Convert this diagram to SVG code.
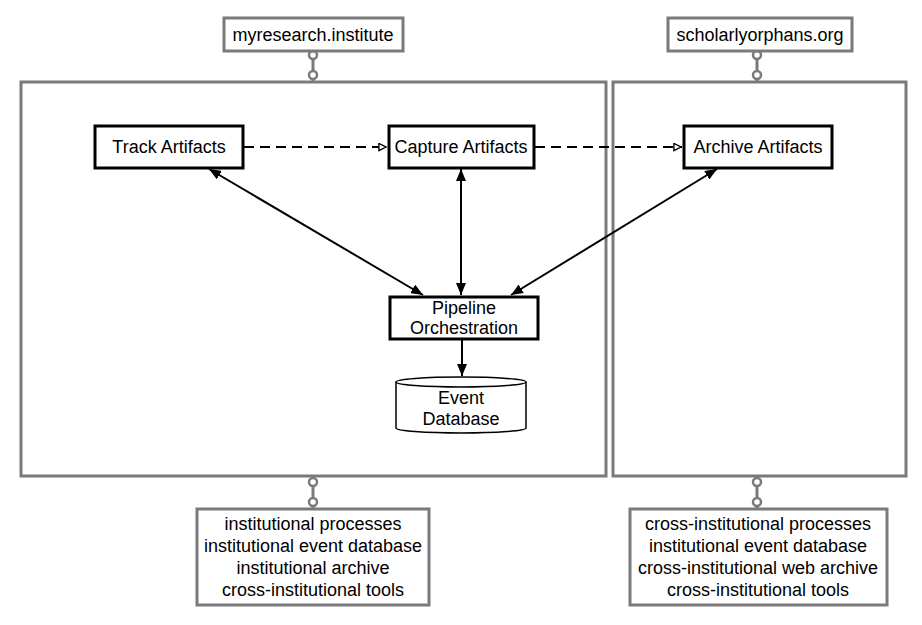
<svg xmlns="http://www.w3.org/2000/svg" width="922" height="625" viewBox="0 0 922 625">
<defs>
<style>
text{font-family:"Liberation Sans",Arial,sans-serif;font-size:18px;fill:#000;text-anchor:middle}
.org{fill:#fff;stroke:#7a7a7a;stroke-width:3}
.node{fill:#fff;stroke:#000;stroke-width:3}
.link{stroke:#7a7a7a;stroke-width:3;fill:none}
.dot{fill:#fff;stroke:#7a7a7a;stroke-width:2.5}
.solid{stroke:#000;stroke-width:2;fill:none}
.dash{stroke:#000;stroke-width:2;fill:none;stroke-dasharray:10,6}
</style>
<marker id="fah" viewBox="0 0 12 10" refX="12" refY="5" markerWidth="12" markerHeight="10" orient="auto-start-reverse" markerUnits="userSpaceOnUse">
<path d="M0,0 L12,5 L0,10 z" fill="#000"/>
</marker>
<marker id="oa" viewBox="0 0 10 10" refX="10" refY="5" markerWidth="10" markerHeight="9" orient="auto" markerUnits="userSpaceOnUse">
<path d="M1,1 L9,5 L1,9 z" fill="#fff" stroke="#000" stroke-width="1.5"/>
</marker>
</defs>

<g id="container-left"><rect class="org" x="21" y="82" width="585" height="394"/></g>
<g id="container-right"><rect class="org" x="613" y="82" width="293" height="394"/></g>

<g id="org-connectors">
<line class="link" x1="313" y1="51" x2="313" y2="82"/>
<circle class="dot" cx="313" cy="55" r="4"/>
<circle class="dot" cx="313" cy="75" r="4"/>
<line class="link" x1="757" y1="51" x2="757" y2="82"/>
<circle class="dot" cx="757" cy="55" r="4"/>
<circle class="dot" cx="757" cy="75" r="4"/>
<line class="link" x1="313" y1="476" x2="313" y2="509"/>
<circle class="dot" cx="313" cy="482" r="4"/>
<circle class="dot" cx="313" cy="502" r="4"/>
<line class="link" x1="757" y1="476" x2="757" y2="509"/>
<circle class="dot" cx="757" cy="482" r="4"/>
<circle class="dot" cx="757" cy="502" r="4"/>
</g>

<g id="label-myresearch"><rect class="org" x="224" y="18" width="179" height="33"/><text x="313" y="41">myresearch.institute</text></g>
<g id="label-scholarly"><rect class="org" x="668" y="18" width="184" height="33"/><text x="760" y="41">scholarlyorphans.org</text></g>

<g id="connectors">
<line class="dash" x1="244" y1="147" x2="387" y2="147" marker-end="url(#oa)"/>
<line class="dash" x1="535" y1="147" x2="682" y2="147" marker-end="url(#oa)"/>
<line class="solid" x1="209" y1="169" x2="423" y2="295" marker-start="url(#fah)" marker-end="url(#fah)"/>
<line class="solid" x1="461" y1="169" x2="461" y2="295" marker-start="url(#fah)" marker-end="url(#fah)"/>
<line class="solid" x1="717" y1="169" x2="511" y2="295" marker-start="url(#fah)" marker-end="url(#fah)"/>
<line class="solid" x1="462" y1="340" x2="462" y2="376" marker-end="url(#fah)"/>
</g>

<g id="track"><rect class="node" x="95" y="126" width="148" height="42"/><text x="169" y="153">Track Artifacts</text></g>
<g id="capture"><rect class="node" x="389" y="126" width="145" height="42"/><text x="461" y="153">Capture Artifacts</text></g>
<g id="archive"><rect class="node" x="684" y="126" width="148" height="42"/><text x="758" y="153">Archive Artifacts</text></g>
<g id="pipeline"><rect class="node" x="390" y="297" width="148" height="42"/><text x="464" y="314">Pipeline</text><text x="464" y="334">Orchestration</text></g>
<g id="eventdb">
<path d="M396,382 L396,428 A65,5 0 0 0 526,428 L526,382" fill="#fff" stroke="#000" stroke-width="1.5"/>
<ellipse cx="461" cy="382" rx="65" ry="5" fill="#fff" stroke="#000" stroke-width="1.5"/>
<text x="461" y="404">Event</text><text x="461" y="425">Database</text>
</g>

<g id="info-left"><rect class="org" x="197" y="509" width="232" height="96"/>
<text x="313" y="530">institutional processes</text>
<text x="313" y="552">institutional event database</text>
<text x="313" y="574">institutional archive</text>
<text x="313" y="596">cross-institutional tools</text>
</g>
<g id="info-right"><rect class="org" x="630" y="509" width="257" height="96"/>
<text x="758" y="530">cross-institutional processes</text>
<text x="758" y="552">institutional event database</text>
<text x="758" y="574">cross-institutional web archive</text>
<text x="758" y="596">cross-institutional tools</text>
</g>
</svg>
